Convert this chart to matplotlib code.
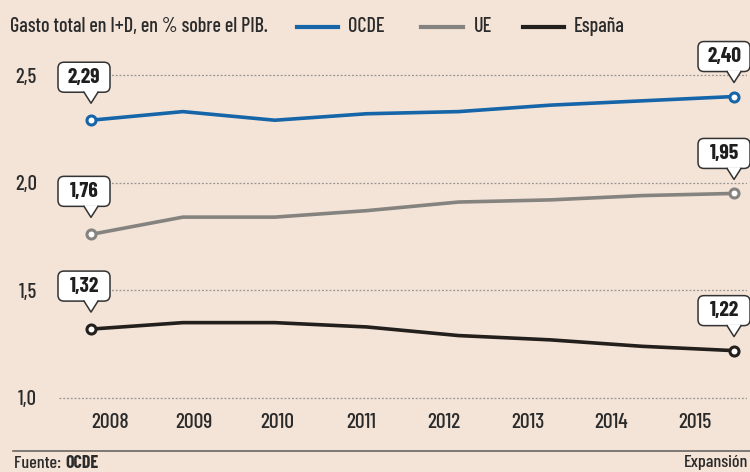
import matplotlib
matplotlib.use("Agg")
import matplotlib.pyplot as plt
import matplotlib.transforms as mtransforms
from matplotlib.patches import FancyBboxPatch, Polygon
from matplotlib.lines import Line2D

plt.rcParams['font.family'] = ['Barlow Condensed', 'DejaVu Sans']
plt.rcParams['font.weight'] = 'medium'

# --- datos ---
years = [2008, 2009, 2010, 2011, 2012, 2013, 2014, 2015]
ocde = [2.29, 2.33, 2.29, 2.32, 2.33, 2.36, 2.38, 2.40]
ue = [1.76, 1.84, 1.84, 1.87, 1.91, 1.92, 1.94, 1.95]
espana = [1.32, 1.35, 1.35, 1.33, 1.29, 1.27, 1.24, 1.22]
series_names = ['OCDE', 'UE', 'España']
y_ticks = [1.0, 1.5, 2.0, 2.5]

BG = '#f4e4d8'
TXT = '#2b2b2b'
colors = {'OCDE': '#1565a8', 'UE': '#858380', 'España': '#231f1c'}

fig = plt.figure(figsize=(7.5, 4.72), dpi=100, facecolor=BG)
ax = fig.add_axes([59 / 750, 67 / 472, 688 / 750, 355 / 472])
ax.set_facecolor(BG)

for name, vals in zip(series_names, [ocde, ue, espana]):
    ax.plot(years, vals, color=colors[name], lw=2.6, marker='o', ms=6.5,
            mfc='white', mec=colors[name], mew=2.2, markevery=[0, len(vals) - 1],
            solid_capstyle='round', zorder=3)

ax.set_xlim(2008 - 32 / 91.86, 2008 + 656 / 91.86)
ax.set_ylim(1.0 - 7 / 215.3, 2.5 + 25 / 215.3)
ax.set_yticks(y_ticks)
ax.set_yticklabels([f'{v:.1f}'.replace('.', ',') for v in y_ticks])
ax.tick_params(axis='y', length=0, pad=16, labelsize=15, labelcolor=TXT)
ax.set_xticks([])
ax.grid(axis='y', linestyle=(0, (1.5, 1.5)), color='#9a948f', lw=0.9)
for s in ax.spines.values():
    s.set_visible(False)

# etiquetas de años (desplazadas respecto a los puntos, como en el original)
sec = ax.twiny()
sec.set_xlim(2008 - 51 / 83.57, 2008 + 637 / 83.57)
sec.xaxis.set_ticks_position('bottom')
sec.set_xticks(years)
sec.set_xticklabels([str(y) for y in years])
sec.tick_params(axis='x', length=0, pad=6, labelsize=15.5, labelcolor=TXT)
for s in sec.spines.values():
    s.set_visible(False)


def callout(x, y, label, dx, gap):
    sc = fig.dpi / 100.0
    trans = mtransforms.Affine2D().scale(sc) + mtransforms.ScaledTranslation(x, y, ax.transData)
    w, h, ph = 52, 30, 11
    y0 = gap + ph
    box = FancyBboxPatch((dx - w / 2, y0), w, h, boxstyle='round,pad=0,rounding_size=6',
                         fc='white', ec='#333333', lw=1.1, transform=trans,
                         clip_on=False, zorder=5)
    fig.add_artist(box)
    tri = Polygon([(-7, y0 + 1.2), (0, gap), (7, y0 + 1.2)], closed=True, fc='white',
                  ec='none', transform=trans, clip_on=False, zorder=6)
    fig.add_artist(tri)
    fig.add_artist(Line2D([-7, 0, 7], [y0, gap, y0], color='#333333', lw=1.1,
                          transform=trans, zorder=7))
    fig.text(dx, y0 + h / 2, label, transform=trans, ha='center', va='center',
             fontsize=15.5, fontweight='bold', color='#1e1e1e', zorder=8)


for vals in [ocde, ue, espana]:
    callout(years[0], vals[0], f'{vals[0]:.2f}'.replace('.', ','), -7, 17)
    callout(years[-1], vals[-1], f'{vals[-1]:.2f}'.replace('.', ','), -10, 14)

# leyenda superior
ly = 1 - 27 / 472
fig.text(10 / 750, ly, 'Gasto total en I+D, en % sobre el PIB.', fontsize=14.5,
         color=TXT, va='center')
for name, (x0, x1, xt) in zip(series_names, [(297, 338, 348), (421, 463, 474), (523, 564, 574)]):
    fig.add_artist(Line2D([x0 / 750, x1 / 750], [ly, ly], color=colors[name], lw=3,
                          transform=fig.transFigure))
    fig.text(xt / 750, ly, name, fontsize=14.5, color=TXT, va='center')

# pie
fig.add_artist(Line2D([13 / 750, 1], [1 - 451 / 472] * 2, color='#6b6560', lw=1.2,
                      transform=fig.transFigure))
t1 = fig.text(14 / 750, 1 - 463 / 472, 'Fuente: ', fontsize=13, color=TXT, va='center')
ax.annotate('OCDE', xy=(1, 0.5), xycoords=t1, va='center', ha='left', fontsize=13,
            fontweight='bold', color=TXT, annotation_clip=False)
fig.text(748 / 750, 1 - 463 / 472, 'Expansión', fontsize=13, color=TXT, va='center',
         ha='right')

fig.savefig('out.png', dpi=100, facecolor=BG)
